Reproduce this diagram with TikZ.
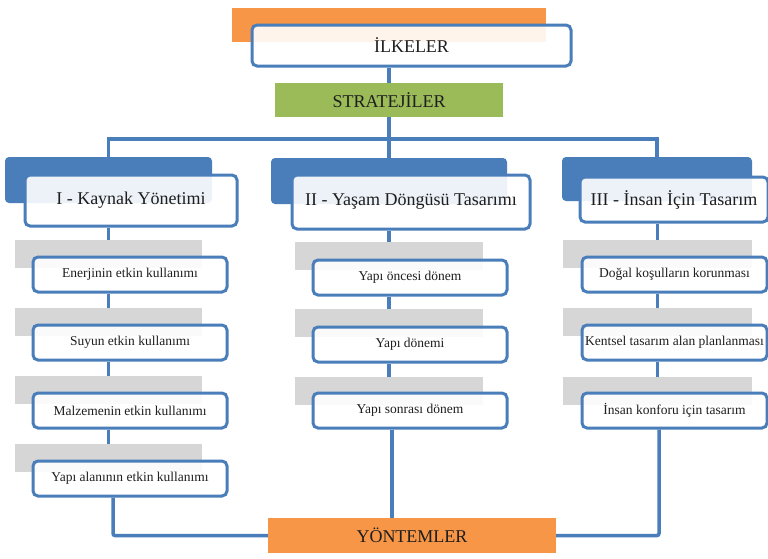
\documentclass[tikz,border=0pt]{standalone}
\usepackage{fontspec}
\setmainfont{Liberation Serif}
\definecolor{bblue}{HTML}{4A7EBB}
\definecolor{lgray}{HTML}{D6D6D6}
\definecolor{orng}{HTML}{F79646}
\definecolor{grn}{HTML}{9BBB59}
\definecolor{txt}{HTML}{1E1E1E}
\begin{document}
\begin{tikzpicture}[x=1pt,y=-1pt,
  wbox/.style={draw=bblue, line width=3pt, rounded corners=5pt, fill=white, fill opacity=0.9, text opacity=1, inner sep=0pt, text=txt, font=\fontsize{13.5}{15}\selectfont},
  hbox/.style={wbox, font=\fontsize{18}{20}\selectfont},
  gbox/.style={fill=lgray, draw=none, inner sep=0pt, minimum height=28pt},
  bback/.style={fill=bblue, draw=none, rounded corners=4pt, inner sep=0pt},
  fbox/.style={draw=none, inner sep=0pt, text=txt, font=\fontsize{18}{20}\selectfont},
  conn/.style={draw=bblue, line width=3.5pt}
]
\useasboundingbox[fill=white] (0,0) rectangle (768,558);

% top
\node[fbox, fill=orng, minimum width=314pt, minimum height=34pt] (top) at (389,25) {};
\node[hbox, minimum width=319pt, minimum height=41pt] (ilk) at (411.5,45.5) {İLKELER};
\node[fbox, fill=grn, minimum width=228pt, minimum height=34pt] (str) at (389,100) {STRATEJİLER};

% column headers
\node[bback, minimum width=207pt, minimum height=46pt] (b1) at (108.5,180) {};
\node[hbox, minimum width=212pt, minimum height=51pt] (h1) at (131,200.5) {I - Kaynak Yönetimi};
\node[bback, minimum width=236pt, minimum height=46pt] (b2) at (389,181) {};
\node[hbox, minimum width=238pt, minimum height=54pt] (h2) at (411,202) {II - Yaşam Döngüsü Tasarımı};
\node[bback, minimum width=190pt, minimum height=44pt] (b3) at (657,179) {};
\node[hbox, minimum width=188pt, minimum height=45pt] (h3) at (674,199.5) {III - İnsan İçin Tasarım};

% column 1
\node[gbox, minimum width=187pt] (g11) at (108.5,254) {};
\node[wbox, minimum width=194pt, minimum height=35pt] (w11) at (130,274.5) {Enerjinin etkin kullanımı};
\node[gbox, minimum width=187pt] (g12) at (108.5,322) {};
\node[wbox, minimum width=194pt, minimum height=35pt] (w12) at (130,342.5) {Suyun etkin kullanımı};
\node[gbox, minimum width=187pt] (g13) at (108.5,390) {};
\node[wbox, minimum width=194pt, minimum height=35pt] (w13) at (130,410.5) {Malzemenin etkin kullanımı};
\node[gbox, minimum width=187pt] (g14) at (108.5,458) {};
\node[wbox, minimum width=194pt, minimum height=35pt] (w14) at (130,478.5) {Yapı alanının etkin kullanımı};

% column 2
\node[gbox, minimum width=188pt] (g21) at (389,256) {};
\node[wbox, minimum width=194pt, minimum height=35pt] (w21) at (410,277.5) {Yapı öncesi dönem};
\node[gbox, minimum width=188pt] (g22) at (389,323) {};
\node[wbox, minimum width=194pt, minimum height=35pt] (w22) at (410,344.5) {Yapı dönemi};
\node[gbox, minimum width=188pt] (g23) at (389,391) {};
\node[wbox, minimum width=194pt, minimum height=35pt] (w23) at (410,410.5) {Yapı sonrası dönem};

% column 3
\node[gbox, minimum width=189pt] (g31) at (657.5,254) {};
\node[wbox, minimum width=185pt, minimum height=35pt] (w31) at (674.5,274.5) {Doğal koşulların korunması};
\node[gbox, minimum width=189pt] (g32) at (657.5,322) {};
\node[wbox, minimum width=185pt, minimum height=35pt] (w32) at (674.5,342.5) {Kentsel tasarım alan planlanması};
\node[gbox, minimum width=189pt] (g33) at (657.5,391) {};
\node[wbox, minimum width=185pt, minimum height=35pt] (w33) at (674.5,410.5) {İnsan konforu için tasarım};

% bottom
\node[fbox, fill=orng, minimum width=288pt, minimum height=35pt] (yon) at (412,535.5) {YÖNTEMLER};

% connectors
\coordinate (bus) at (389,139);
\draw[conn] (str.north) -- (str.north |- ilk.south);
\draw[conn] (str.south) -- (b2.north);
\draw[conn] (b1.north) |- (bus) -| (b3.north);

\draw[conn] (g11.north) -- (g11.north |- h1.south);
\draw[conn] (g12.north) -- (g12.north |- w11.south);
\draw[conn] (g13.north) -- (g13.north |- w12.south);
\draw[conn] (g14.north) -- (g14.north |- w13.south);

\draw[conn] (g21.north) -- (g21.north |- h2.south);
\draw[conn] (g22.north) -- (g22.north |- w21.south);
\draw[conn] (g23.north) -- (g23.north |- w22.south);

\draw[conn] (g31.north) -- (g31.north |- h3.south);
\draw[conn] (g32.north) -- (g32.north |- w31.south);
\draw[conn] (g33.north) -- (g33.north |- w32.south);

\draw[conn, rounded corners=2pt] ([xshift=-17pt]w14.south) |- (yon.west);
\draw[conn] ([xshift=-18pt]w23.south) -- ([xshift=-18pt]w23.south |- yon.north);
\draw[conn, rounded corners=2pt] ([xshift=-15.5pt]w33.south) |- (yon.east);
\end{tikzpicture}
\end{document}
